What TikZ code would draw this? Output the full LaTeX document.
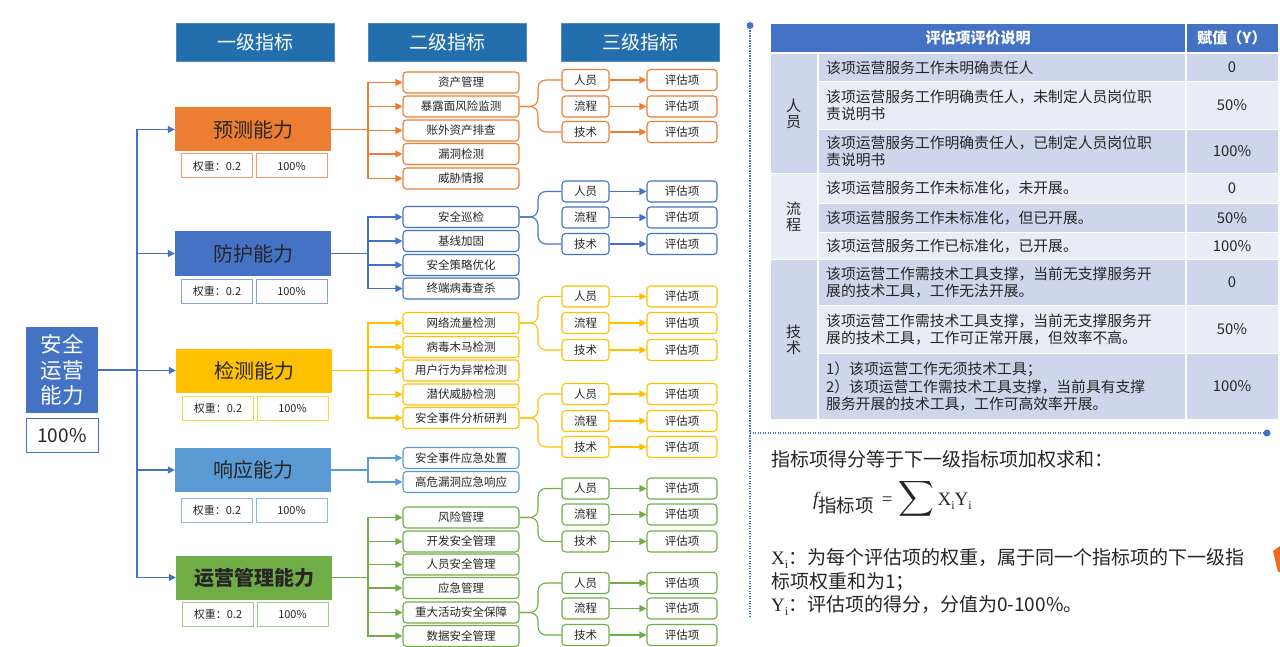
\documentclass[tikz,border=0pt]{standalone}
\usepackage{amsmath}
\usepackage{fontspec}
\setmainfont{Noto Sans CJK SC}
\newfontfamily\serfont{Liberation Serif}
\usetikzlibrary{arrows.meta}
\definecolor{cOr}{HTML}{ED7D31}
\definecolor{cBl}{HTML}{4472C4}
\definecolor{cYe}{HTML}{FFC000}
\definecolor{cLb}{HTML}{5B9BD5}
\definecolor{cGr}{HTML}{70AD47}
\definecolor{cHd}{HTML}{236FAE}
\definecolor{tDk}{HTML}{CFD5EA}
\definecolor{tLt}{HTML}{E9EBF5}
\definecolor{txt}{HTML}{262626}
\definecolor{cRd}{HTML}{F26B1D}
\newcommand\vsub[1]{{\serfont #1}\raisebox{-0.25em}{\serfont\fontsize{12}{12}\selectfont i}}
\begin{document}
\begin{tikzpicture}[x=1pt,y=-1pt,
  hdr/.style={fill=cHd, draw=cHd!80!white, line width=0.8pt, minimum width=158pt, minimum height=38pt, inner sep=0, text=white, font=\fontsize{19}{22}\selectfont},
  lone/.style={minimum width=156pt, minimum height=44pt, inner sep=0, text=txt, font=\fontsize{20}{24}\selectfont},
  wbox/.style={draw, fill=white, line width=1pt, minimum width=71pt, minimum height=24pt, inner sep=0, text=txt, font=\fontsize{11}{13}\selectfont},
  ltwo/.style={draw, fill=white, line width=1.1pt, rounded corners=3.5pt, minimum width=116pt, minimum height=21pt, inner sep=0, text=txt, font=\fontsize{11.5}{13}\selectfont},
  pbox/.style={ltwo, minimum width=47pt},
  ebox/.style={ltwo, minimum width=70pt},
  conn/.style={line width=1.1pt},
  arr/.style={conn, -{Triangle[length=7pt,width=7pt]}},
  tcell/.style={anchor=west, inner sep=0, align=left, text=txt, font=\fontsize{14.8}{17.5}\selectfont},
  vcell/.style={inner sep=0, text=txt, font=\fontsize{14.8}{17.5}\selectfont},
  ccell/.style={inner sep=0, align=center, text=txt, font=\fontsize{15}{16}\selectfont},
  ftext/.style={anchor=base west, inner sep=0, text=txt, font=\fontsize{19}{23}\selectfont},
  dotl/.style={cBl, line width=1.2pt, dash pattern=on 1.2pt off 1.3pt}
]
\useasboundingbox (0,0) rectangle (1280,647);
\fill[white] (0,0) rectangle (1280,647);

% headers
\node[hdr] (h1) at (255,42) {一级指标};
\node[hdr] (h2) at (447,42) {二级指标};
\node[hdr] (h3) at (640,42) {三级指标};

% root
\node[fill=cBl, minimum width=72pt, minimum height=86pt, inner sep=0, text=white, align=center, font=\fontsize{21.5}{25.5}\selectfont] (root) at (62,370) {安全\\运营\\能力};
\node[draw=cBl, fill=white, line width=1pt, minimum width=72pt, minimum height=34pt, inner sep=0, text=txt, font=\fontsize{19}{22}\selectfont] (rootp) at (62,435.5) {100\%};

% level 1
\node[lone, fill=cOr] (A) at (253,129.5) {预测能力};
\node[wbox, draw=cOr!75!white] (Aw) at (217,166) {权重：0.2};
\node[wbox, draw=cOr!75!white] (Ap) at (291.5,166) {100\%};
\node[lone, fill=cBl] (B) at (253,253.5) {防护能力};
\node[wbox, draw=cBl!65!white] (Bw) at (217,291.5) {权重：0.2};
\node[wbox, draw=cBl!65!white] (Bp) at (291.5,291.5) {100\%};
\node[lone, fill=cYe] (C) at (254,370.5) {检测能力};
\node[wbox, draw=cYe!70!white] (Cw) at (218,408.5) {权重：0.2};
\node[wbox, draw=cYe!70!white] (Cp) at (292.5,408.5) {100\%};
\node[lone, fill=cLb] (D) at (253,470) {响应能力};
\node[wbox, draw=cLb!70!white] (Dw) at (217,510) {权重：0.2};
\node[wbox, draw=cLb!70!white] (Dp) at (291.5,510) {100\%};
\node[lone, fill=cGr, font=\fontsize{20}{24}\selectfont\bfseries] (E) at (254,577.5) {运营管理能力};
\node[wbox, draw=cGr!65!white] (Ew) at (218,614.5) {权重：0.2};
\node[wbox, draw=cGr!65!white] (Ep) at (292.5,614.5) {100\%};

% trunk
\coordinate (T) at (137,370);
\draw[conn, cBl] (root.east) -- (T);
\foreach \n in {A,B,C,D,E} \draw[arr, cBl] (T) |- (\n.west);

% level 2
\coordinate (jx) at (368,0);
\foreach \n/\y/\t in {A1/82.5/资产管理, A2/106.5/暴露面风险监测, A3/130.5/账外资产排查, A4/154/漏洞检测, A5/178.5/威胁情报}
  \node[ltwo, draw=cOr] (\n) at (461,\y) {\t};
\foreach \n/\y/\t in {B1/217/安全巡检, B2/241/基线加固, B3/265/安全策略优化, B4/288.5/终端病毒查杀}
  \node[ltwo, draw=cBl] (\n) at (461,\y) {\t};
\foreach \n/\y/\t in {C1/323/网络流量检测, C2/347/病毒木马检测, C3/370.5/用户行为异常检测, C4/394.5/潜伏威胁检测, C5/418/安全事件分析研判}
  \node[ltwo, draw=cYe] (\n) at (461,\y) {\t};
\foreach \n/\y/\t in {D1/458/安全事件应急处置, D2/482/高危漏洞应急响应}
  \node[ltwo, draw=cLb] (\n) at (461,\y) {\t};
\foreach \n/\y/\t in {E1/517.5/风险管理, E2/541.5/开发安全管理, E3/564.5/人员安全管理, E4/588/应急管理, E5/612.5/重大活动安全保障, E6/636/数据安全管理}
  \node[ltwo, draw=cGr] (\n) at (461,\y) {\t};

\draw[conn, cOr] (A.east) -- (A.east -| jx);
\foreach \c in {A1,A2,A3,A4,A5} \draw[arr, cOr] (A.east -| jx) |- (\c.west);
\draw[conn, cBl] (B.east) -- (B.east -| jx);
\foreach \c in {B1,B2,B3,B4} \draw[arr, cBl] (B.east -| jx) |- (\c.west);
\draw[conn, cYe] (C.east) -- (C.east -| jx);
\foreach \c in {C1,C2,C3,C4,C5} \draw[arr, cYe] (C.east -| jx) |- (\c.west);
\draw[conn, cLb] (D.east) -- (D.east -| jx);
\foreach \c in {D1,D2} \draw[arr, cLb] (D.east -| jx) |- (\c.west);
\draw[conn, cGr] (E.east) -- (E.east -| jx);
\foreach \c in {E1,E2,E3,E4,E5,E6} \draw[arr, cGr] (E.east -| jx) |- (\c.west);

% level 3
\coordinate (gx) at (538,0);
\foreach \g/\s/\c/\ya/\yb/\yc in {1/A2/cOr/80/106.5/132, 2/B1/cBl/191.5/217.5/244, 3/C1/cYe/296.5/323/350, 4/C5/cYe/394/421/447, 5/E1/cGr/488.5/514.5/541.5, 6/E5/cGr/583/608.5/635} {
  \node[pbox, draw=\c] (pa\g) at (585.5,\ya) {人员};
  \node[pbox, draw=\c] (pb\g) at (585.5,\yb) {流程};
  \node[pbox, draw=\c] (pc\g) at (585.5,\yc) {技术};
  \node[ebox, draw=\c] (ea\g) at (682,\ya) {评估项};
  \node[ebox, draw=\c] (eb\g) at (682,\yb) {评估项};
  \node[ebox, draw=\c] (ec\g) at (682,\yc) {评估项};
  \draw[arr, \c] (pa\g.east) -- (ea\g.west);
  \draw[arr, \c] (pb\g.east) -- (eb\g.west);
  \draw[arr, \c] (pc\g.east) -- (ec\g.west);
  \draw[conn, \c, rounded corners=8pt] (\s.east) -- (\s.east -| gx) |- (pa\g.west);
  \draw[conn, \c, rounded corners=8pt] (\s.east) -- (\s.east -| gx) |- (pc\g.west);
}

% dotted frame lines
\draw[dotl] (750,25.5) -- (750,618);
\draw[dotl] (750,433) -- (1267,433);
\fill[cBl] (750,25.5) circle (3.5pt);
\fill[cBl] (1267,433) circle (3.5pt);

% table
\fill[cBl] (771,24) rectangle (1185,52);
\fill[cBl] (1187,24) rectangle (1278,52);
\foreach \a/\b/\c in {54/81/tDk, 82/129/tLt, 130/173/tDk, 174/203/tLt, 204/232/tDk, 233/259/tLt, 260/305/tDk, 306/353/tLt, 354/419/tDk} {
  \fill[\c] (818.5,\a) rectangle (1185,\b);
  \fill[\c] (1187,\a) rectangle (1278,\b);
}
\fill[tDk] (771,54) rectangle (816.5,173);
\fill[tLt] (771,174) rectangle (816.5,259);
\fill[tDk] (771,260) rectangle (816.5,419);

\node[inner sep=0, text=white, font=\fontsize{15}{17}\selectfont\bfseries] (th1) at (978,38) {评估项评价说明};
\node[inner sep=0, text=white, font=\fontsize{15}{17}\selectfont\bfseries] (th2) at (1232,38) {赋值（Y）};

\node[ccell] (c1) at (793.5,114) {人\\员};
\node[ccell] (c2) at (793.5,216.5) {流\\程};
\node[ccell] (c3) at (793.5,339.5) {技\\术};

\node[tcell] (t1) at (826,67.5) {该项运营服务工作未明确责任人};
\node[tcell] (t2) at (826,105.5) {该项运营服务工作明确责任人，未制定人员岗位职\\责说明书};
\node[tcell] (t3) at (826,151.5) {该项运营服务工作明确责任人，已制定人员岗位职\\责说明书};
\node[tcell] (t4) at (826,188.5) {该项运营服务工作未标准化，未开展。};
\node[tcell] (t5) at (826,218) {该项运营服务工作未标准化，但已开展。};
\node[tcell] (t6) at (826,246) {该项运营服务工作已标准化，已开展。};
\node[tcell] (t7) at (826,282.5) {该项运营工作需技术工具支撑，当前无支撑服务开\\展的技术工具，工作无法开展。};
\node[tcell] (t8) at (826,329.5) {该项运营工作需技术工具支撑，当前无支撑服务开\\展的技术工具，工作可正常开展，但效率不高。};
\node[tcell] (t9) at (826,386.5) {1）该项运营工作无须技术工具；\\2）该项运营工作需技术工具支撑，当前具有支撑\\服务开展的技术工具，工作可高效率开展。};

\node[vcell] (v1) at (1232,67.5) {0};
\node[vcell] (v2) at (1232,105.5) {50\%};
\node[vcell] (v3) at (1232,151.5) {100\%};
\node[vcell] (v4) at (1232,188.5) {0};
\node[vcell] (v5) at (1232,218) {50\%};
\node[vcell] (v6) at (1232,246) {100\%};
\node[vcell] (v7) at (1232,282.5) {0};
\node[vcell] (v8) at (1232,329.5) {50\%};
\node[vcell] (v9) at (1232,386.5) {100\%};

% formula text
\node[ftext] (f1) at (771,466) {指标项得分等于下一级指标项加权求和：};
\node[anchor=base west, inner sep=0, text=txt, font=\fontsize{19}{23}\selectfont] (f2) at (813,505) {{\serfont\itshape f}\raisebox{-7pt}{\fontsize{18.5}{19}\selectfont 指标项}\hspace{8pt}{\serfont =}\hspace{6pt}{\fontsize{25}{25}\selectfont$\displaystyle\smash{\sum}$}\hspace{3pt}\vsub{X}\vsub{Y}};
\node[ftext] (f3) at (771,564) {\vsub{X}：为每个评估项的权重，属于同一个指标项的下一级指};
\node[ftext] (f4) at (771,588) {标项权重和为1；};
\node[ftext] (f5) at (771,611) {\vsub{Y}：评估项的得分，分值为0-100\%。};

% cropped orange shape at right edge
\fill[cRd] (1273,551) -- (1280,546) -- (1280,572) -- (1278,572) -- cycle;
\end{tikzpicture}
\end{document}
